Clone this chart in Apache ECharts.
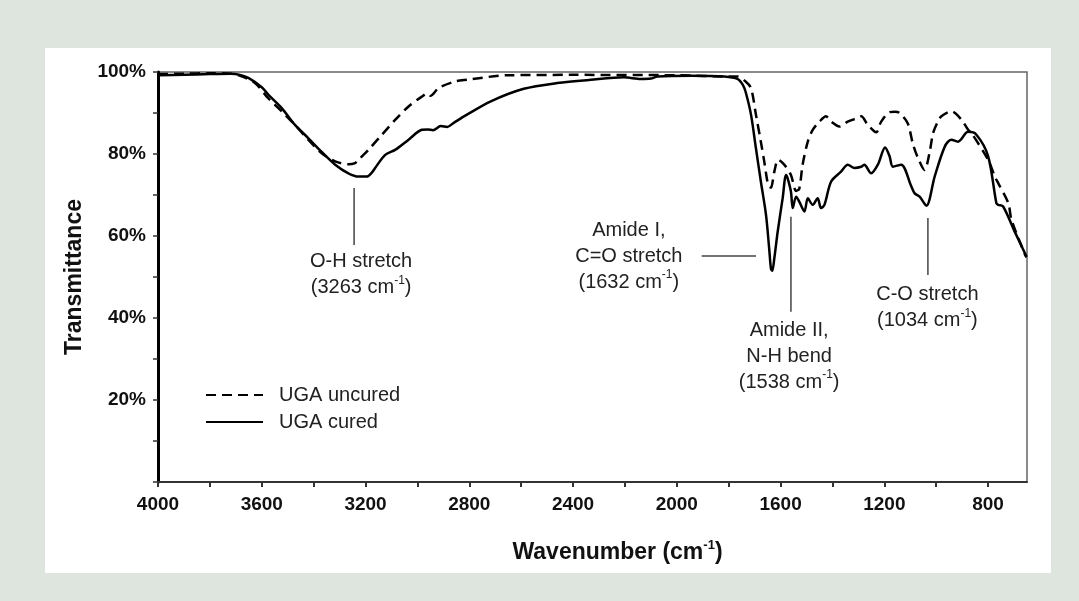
<!DOCTYPE html>
<html>
<head>
<meta charset="utf-8">
<script src="https://cdn.jsdelivr.net/npm/echarts@6/dist/echarts.min.js"></script>
<style>
  html, body { margin: 0; padding: 0; background: #dde5de; }
  #wrap { position: relative; width: 1079px; height: 601px; background: #dde5de; }
  #panel { position: absolute; left: 45px; top: 48px; width: 1006px; height: 525px; background: #ffffff; }
  #chart { position: absolute; left: 0; top: 0; width: 1079px; height: 601px; }
</style>
</head>
<body>
<div id="wrap"><div id="panel"></div><div id="chart"></div></div>
<script>
// ---- data ----
const uncuredWn = [4000,3900,3800,3720,3680,3626,3575,3523,3472,3421,3369,3317,3266,3240,3227,3189,3137,3086,3034,2983,2960,2950,2918,2854,2809,2654,2400,2000,1800,1766,1735,1714,1695,1676,1663,1650,1644,1637,1624,1609,1586,1560,1540,1528,1515,1495,1476,1450,1425,1405,1373,1341,1302,1289,1264,1238,1231,1212,1180,1160,1141,1110,1090,1070,1045,1026,1012,993,980,942,903,877,864,800,774,761,722,710,658,652];
const uncuredT  = [99.5,99.6,99.7,99.6,99.0,97.3,93.6,90.4,87.1,83.5,80.2,78.2,77.5,77.8,78.6,81.0,84.7,88.3,91.6,94.0,94.8,94.2,96.1,97.7,98.1,99.2,99.3,99.2,98.9,98.9,97.7,96.1,89.6,83.0,78.2,73.0,72.1,71.8,75.7,78.6,77.4,74.9,71.0,71.5,77.4,83.0,85.9,87.9,89.2,87.9,86.7,87.9,88.8,89.2,87.1,85.5,85.3,87.9,90.2,90.3,90.0,87.5,82.5,79.0,76.1,80.2,85.1,88.0,89.2,90.4,88.4,85.9,85.1,78.6,74.5,72.9,68.0,64.0,55.5,54.8];

const curedWn = [4000,3900,3800,3720,3684,3650,3600,3575,3523,3472,3421,3369,3317,3266,3227,3195,3175,3163,3124,3086,3034,2983,2960,2940,2910,2885,2860,2809,2719,2590,2461,2332,2204,2139,2100,2075,1946,1817,1766,1745,1734,1714,1695,1676,1656,1644,1637,1632,1624,1611,1592,1579,1573,1560,1553,1540,1528,1508,1495,1476,1457,1444,1431,1405,1367,1341,1315,1289,1277,1251,1225,1197,1180,1167,1135,1096,1083,1064,1038,1006,967,942,916,877,845,800,768,761,742,697,652];
const curedT  = [99.2,99.3,99.5,99.6,99.3,98.5,96.3,94.5,91.2,87.1,83.9,80.5,77.4,75.3,74.5,74.5,75.5,76.6,79.8,81.0,83.5,85.9,86.0,85.8,86.8,86.6,87.6,89.6,92.8,95.9,97.3,98.1,98.7,98.3,98.4,98.9,99.1,98.9,98.3,96.8,95.0,89.6,81.4,73.3,65.1,57.0,52.0,51.5,54.6,61.1,69.2,74.9,74.1,70.8,66.8,69.6,68.4,66.0,69.2,67.6,69.2,66.8,67.6,73.3,75.7,77.4,76.6,76.9,77.4,75.3,77.4,81.6,79.5,76.9,77.4,72.1,70.4,69.6,67.4,74.5,81.8,83.5,83.0,85.4,84.7,79.5,68.0,67.6,67.2,61.0,55.0];

const seriesNames = ['UGA uncured', 'UGA cured'];
const xTickValues = [800,1000,1200,1400,1600,1800,2000,2200,2400,2600,2800,3000,3200,3400,3600,3800,4000];
const xLabelValues = [800,1200,1600,2000,2400,2800,3200,3600,4000];

// annotation texts and their anchors in data space (wavenumber, %T)
const annoTexts = [
  'O-H stretch\n(3263 cm{s|-1})',
  'Amide I,\nC=O stretch\n(1632 cm{s|-1})',
  'Amide II,\nN-H bend\n(1538 cm{s|-1})',
  'C-O stretch\n(1034 cm{s|-1})'
];
const annoTextAt = [[3217, 50.6], [2185, 55.1], [1567, 30.7], [1034, 42.5]];
const annoLines = [
  [[3244, 71.7], [3244, 57.8]],
  [[1904, 55.1], [1695, 55.1]],
  [[1560, 64.7], [1560, 41.5]],
  [[1032, 64.4], [1032, 50.5]]
];

const zip = (a, b) => a.map((v, i) => [v, b[i]]);
const FONT = '"Liberation Sans", Arial, Helvetica, sans-serif';

const chart = echarts.init(document.getElementById('chart'), null, { renderer: 'canvas' });
const option = {
  backgroundColor: 'transparent',
  animation: false,
  grid: {
    left: 158, right: 52, top: 72, bottom: 119,
    show: true, borderColor: '#666', borderWidth: 1.5, backgroundColor: 'transparent'
  },
  legend: {
    orient: 'vertical', left: 200, top: 380,
    itemWidth: 57, itemHeight: 20, itemGap: 7,
    data: seriesNames,
    itemStyle: { opacity: 0 },
    textStyle: { fontFamily: FONT, fontSize: 20, color: '#222', padding: [0, 0, 0, 11], lineHeight: 20 }
  },
  xAxis: {
    type: 'value', inverse: true, min: 650, max: 4000,
    name: '{a|Wavenumber (cm}{s|-1}{a|)}',
    nameLocation: 'middle', nameGap: 57,
    nameTextStyle: {
      padding: [0, 0, 0, 50],
      rich: {
        a: { fontFamily: FONT, fontSize: 23, fontWeight: 'bold', color: '#111', lineHeight: 28 },
        s: { fontFamily: FONT, fontSize: 13, fontWeight: 'bold', color: '#111', lineHeight: 15, verticalAlign: 'top' }
      }
    },
    splitLine: { show: false },
    axisLine: { show: true, onZero: false, lineStyle: { color: '#333', width: 2 } },
    axisTick: { show: true, customValues: xTickValues, length: 5, lineStyle: { color: '#333', width: 2 } },
    axisLabel: {
      customValues: xLabelValues, fontFamily: FONT, fontSize: 19, fontWeight: 'bold', color: '#111', margin: 13,
      formatter: v => String(v)
    }
  },
  yAxis: {
    type: 'value', min: 0, max: 100, interval: 10,
    name: 'Transmittance', nameLocation: 'middle', nameGap: 72, nameRotate: 90,
    nameTextStyle: { fontFamily: FONT, fontSize: 23, fontWeight: 'bold', color: '#111' },
    splitLine: { show: false },
    axisLine: { show: true, onZero: false, lineStyle: { color: '#000', width: 3 } },
    axisTick: { show: true, length: 5, lineStyle: { color: '#333', width: 1.5 } },
    axisLabel: {
      fontFamily: FONT, fontSize: 19, fontWeight: 'bold', color: '#111', margin: 12,
      formatter: v => (v > 0 && v % 20 === 0) ? v + '%' : ''
    }
  },
  series: [
    {
      name: seriesNames[0], type: 'line', data: zip(uncuredWn, uncuredT),
      showSymbol: false, symbol: 'none', smooth: 0.3,
      lineStyle: { color: '#000', width: 2.5, type: [10, 6] }, itemStyle: { color: '#000' }, z: 2
    },
    {
      name: seriesNames[1], type: 'line', data: zip(curedWn, curedT),
      showSymbol: false, symbol: 'none', smooth: 0.3,
      lineStyle: { color: '#000', width: 2.5, type: 'solid' }, itemStyle: { color: '#000' }, z: 3
    }
  ]
};
chart.setOption(option);

// annotations positioned from data coordinates
const toPx = p => chart.convertToPixel({ gridIndex: 0 }, p);
const graphics = [];
annoLines.forEach(l => {
  const a = toPx(l[0]), b = toPx(l[1]);
  graphics.push({ type: 'line', shape: { x1: a[0], y1: a[1], x2: b[0], y2: b[1] },
    style: { stroke: '#444', lineWidth: 1.5 }, z: 10 });
});
annoTexts.forEach((t, i) => {
  const p = toPx(annoTextAt[i]);
  graphics.push({
    type: 'text', x: p[0], y: p[1], z: 10,
    style: {
      text: t, align: 'center', verticalAlign: 'middle',
      fontFamily: FONT, fontSize: 20, fill: '#222', lineHeight: 26,
      rich: { s: { fontFamily: FONT, fontSize: 12, fill: '#222', lineHeight: 14, verticalAlign: 'top' } }
    }
  });
});
chart.setOption({ graphic: graphics });
</script>
</body>
</html>
